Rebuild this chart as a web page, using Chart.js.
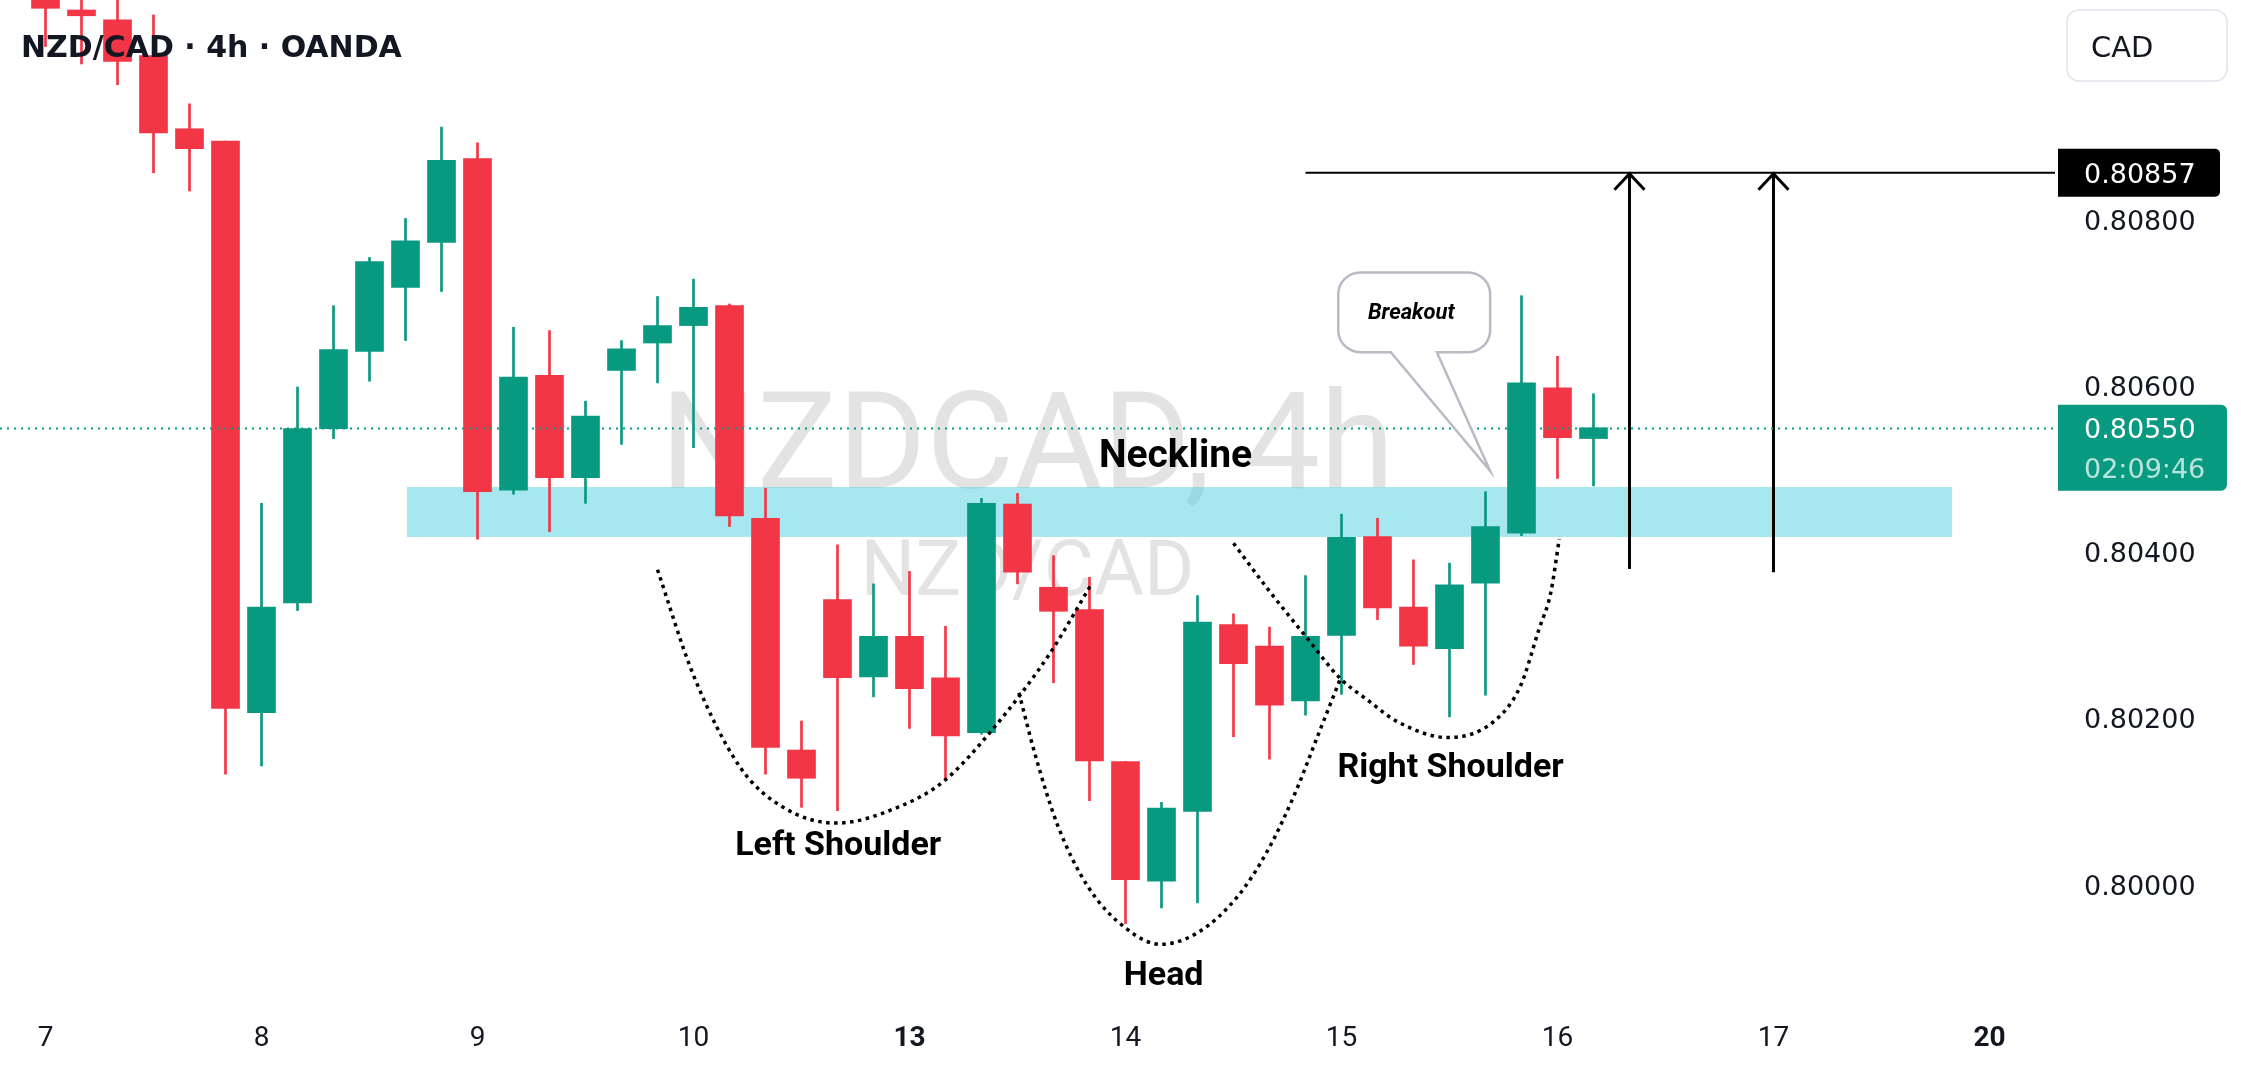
<!DOCTYPE html>
<html>
<head>
<meta charset="utf-8">
<script src="https://cdn.jsdelivr.net/npm/chart.js@4.4.0/dist/chart.umd.min.js"></script>
<style>
html,body{margin:0;padding:0;background:#ffffff;overflow:hidden}
#wrap{width:2241px;height:1077px;position:relative}
</style>
</head>
<body>
<div id="wrap"><canvas id="c" width="2241" height="1077"></canvas></div>
<script>
// ---------------- DATA ----------------
const symbolTitle = 'NZD/CAD \u00b7 4h \u00b7 OANDA';
const watermarkLine1 = 'NZDCAD, 4h';
const watermarkLine2 = 'NZD/CAD';
const currencyButton = 'CAD';

// 4h candles, slot 0 = first candle of day 8
const firstSlot = -6;
const opens  = [0.81080,0.81053,0.81041,0.80998,0.80910,0.80895,0.80207,0.80339,0.80549,0.80642,0.80719,0.80773,0.80874,0.80475,0.80613,0.80490,0.80619,0.80652,0.80673,0.80697,0.80441,0.80162,0.80343,0.80250,0.80299,0.80249,0.80183,0.80458,0.80358,0.80331,0.80148,0.80004,0.80088,0.80313,0.80287,0.80221,0.80300,0.80419,0.80334,0.80284,0.80363,0.80423,0.80598,0.80537];
const highs  = [0.81090,0.81070,0.81075,0.81047,0.80940,0.80895,0.80459,0.80599,0.80697,0.80755,0.80802,0.80912,0.80893,0.80671,0.80667,0.80582,0.80655,0.80708,0.80729,0.80699,0.80477,0.80197,0.80409,0.80362,0.80377,0.80311,0.80465,0.80471,0.80396,0.80370,0.80148,0.80099,0.80348,0.80326,0.80310,0.80372,0.80446,0.80441,0.80391,0.80387,0.80473,0.80709,0.80636,0.80591];
const lows   = [0.81009,0.80988,0.80963,0.80857,0.80835,0.80133,0.80143,0.80330,0.80537,0.80606,0.80655,0.80714,0.80416,0.80470,0.80425,0.80459,0.80530,0.80604,0.80526,0.80431,0.80133,0.80093,0.80089,0.80226,0.80188,0.80126,0.80181,0.80362,0.80243,0.80101,0.79953,0.79972,0.79978,0.80178,0.80151,0.80204,0.80229,0.80319,0.80265,0.80202,0.80228,0.80420,0.80489,0.80480];
const closes = [0.81055,0.81046,0.80991,0.80905,0.80886,0.80212,0.80334,0.80549,0.80644,0.80750,0.80775,0.80872,0.80473,0.80611,0.80490,0.80564,0.80645,0.80673,0.80695,0.80444,0.80165,0.80128,0.80249,0.80299,0.80236,0.80179,0.80459,0.80376,0.80329,0.80149,0.80006,0.80092,0.80316,0.80266,0.80216,0.80299,0.80418,0.80333,0.80287,0.80361,0.80431,0.80604,0.80538,0.80550];

const dateTickSlots  = [-6, 0, 6, 12, 18, 24, 30, 36, 42, 48];
const dateTickLabels = ['7','8','9','10','13','14','15','16','17','20'];
const boldDateLabels = ['13','20'];
const priceTicks = [0.800, 0.802, 0.804, 0.806, 0.808];
const slotRange  = [-7.264, 49.82];
const priceRange = [0.79849, 0.81065];

const lastPrice = 0.80550;
const countdownText = '02:09:46';

const necklineSlots  = [4.04, 46.96];
const necklinePrices = [0.804185, 0.804787];

const targetPrice = 0.80857;
const targetStartSlot = 29;
const arrowSlots   = [38, 42];
const arrowBottoms = [0.80380, 0.80376];

const leftShoulderSlots  = [11.0, 11.99, 13.3, 14.49, 15.96, 17.67, 18.94, 20.33, 21.91, 23.03];
const leftShoulderPrices = [0.80379, 0.80253, 0.80141, 0.80093, 0.80074, 0.80093, 0.80124, 0.80188, 0.80279, 0.80360];
const headSlots  = [21.04, 21.48, 22.11, 22.95, 24.02, 24.97, 26.04, 27.12, 27.95, 28.71, 29.34, 29.97];
const headPrices = [0.80231, 0.80158, 0.80072, 0.79998, 0.79947, 0.79928, 0.79943, 0.79986, 0.80041, 0.80110, 0.80179, 0.80248];
const rightShoulderSlots  = [27.0, 27.95, 29.02, 29.97, 30.73, 31.56, 32.95, 34.22, 34.97, 35.49, 35.81, 36.05];
const rightShoulderPrices = [0.80411, 0.80356, 0.80298, 0.80248, 0.80222, 0.80196, 0.80177, 0.80196, 0.80239, 0.80308, 0.80351, 0.80416];

const patternLabels      = ['Neckline', 'Left Shoulder', 'Head', 'Right Shoulder'];
const patternLabelSlots  = [25.39, 16.02, 25.06, 33.03];
const patternLabelPrices = [0.80503, 0.80036, 0.79879, 0.80130];

const calloutText = 'Breakout';
const calloutBoxSlots  = [29.91, 34.13];
const calloutBoxPrices = [0.80641, 0.80737];
const calloutTailSlots = [31.37, 32.65];
const calloutTip = [34.13, 0.80498];
const calloutTextAt = [31.94, 0.80687];

// ---------------- STYLES ----------------
const UP = '#089981', DOWN = '#f23645', TEXT = '#131722';
const slots = opens.map((_, i) => firstSlot + i);
const candleColors = opens.map((o, i) => closes[i] >= o ? UP : DOWN);
const labelSizes = {'Neckline': 39};

function toPts(xs, ys) { return xs.map((x, i) => ({x: x, y: ys[i]})); }

const dottedCurve = (data) => ({
  type: 'line', data: data, borderColor: '#000', borderWidth: 3.5,
  borderDash: [3.5, 4.5], pointRadius: 0, fill: false,
  cubicInterpolationMode: 'monotone', order: 0
});
const solidLine = (data, w) => ({
  type: 'line', data: data, borderColor: '#000', borderWidth: w,
  pointRadius: 0, fill: false, tension: 0, order: 0
});

const annotationPlugin = {
  id: 'annot',
  beforeDatasetsDraw(chart) {
    const {ctx, chartArea: a, scales: {x, y}} = chart;
    ctx.save();
    ctx.beginPath(); ctx.rect(a.left, a.top, a.right - a.left, a.bottom - a.top); ctx.clip();
    // watermark
    const cx = (a.left + a.right) / 2, cy = (a.top + a.bottom) / 2;
    ctx.fillStyle = 'rgba(0,0,0,0.11)';
    ctx.textAlign = 'center'; ctx.textBaseline = 'alphabetic';
    ctx.font = '135px Roboto';
    ctx.fillText(watermarkLine1, cx, cy - 17);
    ctx.font = '77px Roboto';
    ctx.fillText(watermarkLine2, cx, cy + 90);
    // neckline band
    const x0 = x.getPixelForValue(necklineSlots[0]), x1 = x.getPixelForValue(necklineSlots[1]);
    const y0 = y.getPixelForValue(necklinePrices[1]), y1 = y.getPixelForValue(necklinePrices[0]);
    ctx.fillStyle = 'rgba(80,209,225,0.5)';
    ctx.fillRect(x0, y0, x1 - x0, y1 - y0);
    ctx.restore();
  },
  afterDatasetsDraw(chart) {
    const {ctx, chartArea: a, scales: {x, y}} = chart;
    ctx.save();
    // current price dotted line
    const py = Math.round(y.getPixelForValue(lastPrice)) + 0.5;
    ctx.strokeStyle = UP; ctx.lineWidth = 2; ctx.setLineDash([2, 5]);
    ctx.beginPath(); ctx.moveTo(a.left, py); ctx.lineTo(a.right, py); ctx.stroke();
    ctx.setLineDash([]);
    // arrow heads
    ctx.strokeStyle = '#000'; ctx.lineWidth = 3; ctx.lineJoin = 'miter';
    arrowSlots.forEach(s => {
      const ax = x.getPixelForValue(s), ay = y.getPixelForValue(targetPrice);
      ctx.beginPath(); ctx.moveTo(ax - 15, ay + 17); ctx.lineTo(ax, ay + 1); ctx.lineTo(ax + 15, ay + 17); ctx.stroke();
    });
    // pattern labels
    ctx.fillStyle = '#000'; ctx.textAlign = 'center'; ctx.textBaseline = 'alphabetic';
    patternLabels.forEach((t, i) => {
      ctx.font = 'bold ' + (labelSizes[t] || 34) + 'px Roboto';
      ctx.fillText(t, x.getPixelForValue(patternLabelSlots[i]), y.getPixelForValue(patternLabelPrices[i]));
    });
    // breakout callout
    const L = x.getPixelForValue(calloutBoxSlots[0]), R = x.getPixelForValue(calloutBoxSlots[1]);
    const T = y.getPixelForValue(calloutBoxPrices[1]), B = y.getPixelForValue(calloutBoxPrices[0]);
    const bl = x.getPixelForValue(calloutTailSlots[0]), br = x.getPixelForValue(calloutTailSlots[1]);
    const tx = x.getPixelForValue(calloutTip[0]), ty = y.getPixelForValue(calloutTip[1]);
    const r = 22;
    ctx.beginPath();
    ctx.moveTo(L + r, T); ctx.lineTo(R - r, T); ctx.arcTo(R, T, R, T + r, r);
    ctx.lineTo(R, B - r); ctx.arcTo(R, B, R - r, B, r);
    ctx.lineTo(br, B); ctx.lineTo(tx, ty); ctx.lineTo(bl, B);
    ctx.lineTo(L + r, B); ctx.arcTo(L, B, L, B - r, r);
    ctx.lineTo(L, T + r); ctx.arcTo(L, T, L + r, T, r); ctx.closePath();
    ctx.fillStyle = '#ffffff'; ctx.fill();
    ctx.strokeStyle = '#b8bbc4'; ctx.lineWidth = 2.5; ctx.stroke();
    ctx.fillStyle = '#000'; ctx.font = 'italic bold 22px Roboto'; ctx.textBaseline = 'middle';
    ctx.fillText(calloutText, x.getPixelForValue(calloutTextAt[0]), y.getPixelForValue(calloutTextAt[1]));
    ctx.restore();
  },
  afterDraw(chart) {
    const {ctx, chartArea: a, scales: {y}} = chart;
    ctx.save();
    // title
    ctx.fillStyle = TEXT; ctx.font = 'bold 30px "DejaVu Sans"';
    ctx.textAlign = 'left'; ctx.textBaseline = 'alphabetic';
    ctx.fillText(symbolTitle, 21, 57);
    // currency button
    const bx = 2067, bw = 160, byy = 10, bh = 71;
    ctx.beginPath(); ctx.roundRect(bx, byy, bw, bh, 12);
    ctx.fillStyle = '#fff'; ctx.fill(); ctx.strokeStyle = '#e0e3eb'; ctx.lineWidth = 1.5; ctx.stroke();
    ctx.fillStyle = TEXT; ctx.font = '29px "DejaVu Sans"'; ctx.textBaseline = 'middle';
    ctx.fillText(currencyButton, 2091, 49);
    // target price label
    const ty = y.getPixelForValue(targetPrice);
    ctx.font = '27px "DejaVu Sans"';
    ctx.beginPath(); ctx.roundRect(a.right + 3, ty - 24, 162, 48, [0, 5, 5, 0]);
    ctx.fillStyle = '#000'; ctx.fill();
    ctx.fillStyle = '#fff';
    ctx.fillText(targetPrice.toFixed(5), 2084, ty + 3);
    // last price label
    const ly = y.getPixelForValue(lastPrice);
    ctx.beginPath(); ctx.roundRect(a.right + 3, ly - 23, 169, 86, [0, 6, 6, 0]);
    ctx.fillStyle = UP; ctx.fill();
    ctx.fillStyle = '#fff';
    ctx.fillText(lastPrice.toFixed(5), 2084, ly + 3);
    ctx.fillStyle = 'rgba(255,255,255,0.72)';
    ctx.fillText(countdownText, 2084, ly + 43);
    ctx.restore();
  }
};

new Chart(document.getElementById('c'), {
  type: 'bar',
  data: {
    datasets: [
      dottedCurve(toPts(leftShoulderSlots, leftShoulderPrices)),
      dottedCurve(toPts(headSlots, headPrices)),
      dottedCurve(toPts(rightShoulderSlots, rightShoulderPrices)),
      solidLine([{x: targetStartSlot, y: targetPrice}, {x: slotRange[1], y: targetPrice}], 2),
      solidLine([{x: arrowSlots[0], y: arrowBottoms[0]}, {x: arrowSlots[0], y: targetPrice}], 3),
      solidLine([{x: arrowSlots[1], y: arrowBottoms[1]}, {x: arrowSlots[1], y: targetPrice}], 3),
      {
        type: 'bar', order: 1, grouped: false, barThickness: 28, borderWidth: 0,
        backgroundColor: candleColors,
        data: slots.map((s, i) => ({x: s, y: [opens[i], closes[i]]}))
      },
      {
        type: 'bar', order: 2, grouped: false, barThickness: 2, borderWidth: 0,
        backgroundColor: candleColors,
        data: slots.map((s, i) => ({x: s, y: [lows[i], highs[i]]}))
      }
    ]
  },
  options: {
    responsive: false, animation: false, devicePixelRatio: 1,
    layout: {padding: 0},
    plugins: {legend: {display: false}, tooltip: {enabled: false}},
    scales: {
      x: {
        type: 'linear', position: 'bottom', offset: false,
        min: slotRange[0], max: slotRange[1],
        grid: {display: false, drawTicks: false}, border: {display: false},
        afterBuildTicks: (s) => { s.ticks = dateTickSlots.map(v => ({value: v})); },
        afterFit: (s) => { s.height = 67; s.paddingLeft = 0; s.paddingRight = 0; },
        ticks: {
          autoSkip: false, maxRotation: 0, minRotation: 0, padding: 12, color: TEXT,
          font: (c) => ({family: 'Roboto', size: 28,
            weight: boldDateLabels.includes(dateTickLabels[c.index]) ? 'bold' : 'normal'}),
          callback: (v, i) => dateTickLabels[i]
        }
      },
      y: {
        type: 'linear', position: 'right',
        min: priceRange[0], max: priceRange[1],
        grid: {display: false, drawTicks: false}, border: {display: false},
        afterBuildTicks: (s) => { s.ticks = priceTicks.map(v => ({value: v})); },
        afterFit: (s) => { s.width = 186; s.paddingTop = 0; s.paddingBottom = 0; },
        ticks: {
          padding: 29, labelOffset: 3, color: TEXT, font: {family: 'DejaVu Sans', size: 27},
          callback: (v) => v.toFixed(5)
        }
      }
    }
  },
  plugins: [annotationPlugin]
});
</script>
</body>
</html>
